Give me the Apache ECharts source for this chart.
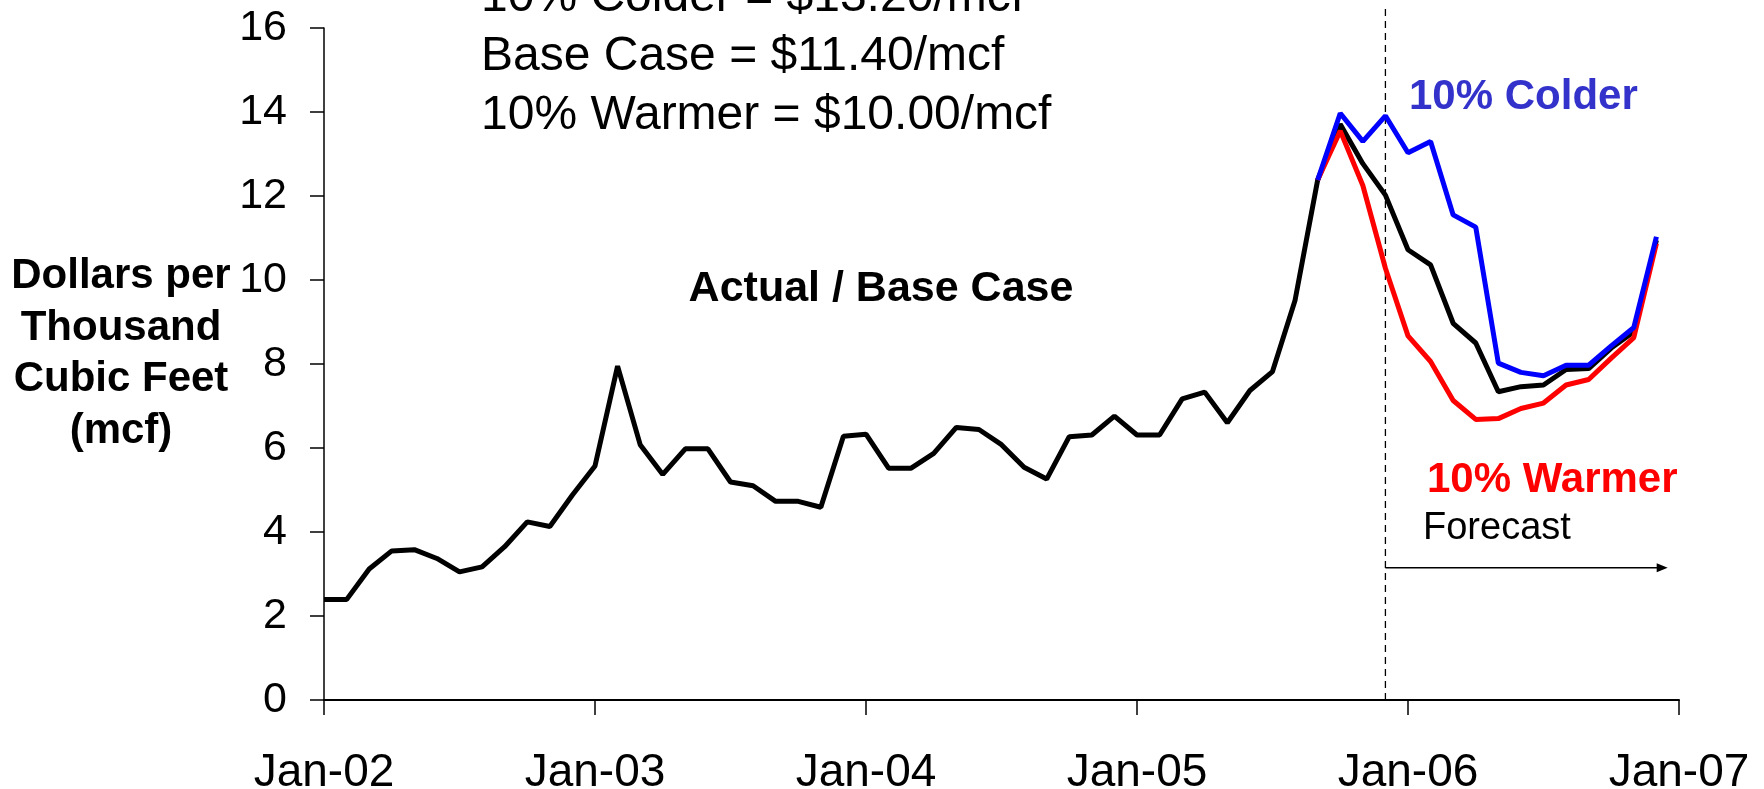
<!DOCTYPE html>
<html><head><meta charset="utf-8">
<script src="https://cdn.jsdelivr.net/npm/echarts@6/dist/echarts.min.js"></script>
<style>html,body{margin:0;padding:0;background:#fff}#c{width:1764px;height:789px}</style>
</head><body><div id="c"></div>
<script>
// Tick labels of the month axis (one per January)
const yearLabels = ['Jan-02', 'Jan-03', 'Jan-04', 'Jan-05', 'Jan-06', 'Jan-07'];

// Actual / Base Case, monthly Jan-02 .. Dec-06 ($/mcf)
const baseCase = [
  2.39, 2.39, 3.12, 3.55, 3.58, 3.37, 3.05, 3.17, 3.65, 4.24, 4.13, 4.88,
  5.57, 7.95, 6.08, 5.37, 5.98, 5.98, 5.19, 5.10, 4.73, 4.73, 4.59, 6.28,
  6.33, 5.52, 5.52, 5.87, 6.49, 6.44, 6.08, 5.54, 5.26, 6.27, 6.31, 6.76,
  6.31, 6.31, 7.17, 7.33, 6.60, 7.37, 7.82, 9.52, 12.38, 13.71, 12.77, 12.02,
  10.72, 10.36, 8.97, 8.50, 7.34, 7.46, 7.50, 7.87, 7.89, 8.38, 8.77, 10.95
];
// 10% Colder scenario, Sep-05 .. Dec-06
const colder = [12.38, 13.97, 13.30, 13.91, 13.03, 13.30, 11.55, 11.26, 8.02, 7.80, 7.72, 7.97, 7.97, 8.43, 8.87, 11.03];
// 10% Warmer scenario, Sep-05 .. Dec-06
const warmer = [12.38, 13.55, 12.25, 10.28, 8.67, 8.06, 7.13, 6.68, 6.70, 6.94, 7.07, 7.50, 7.63, 8.14, 8.63, 10.87];

const summaryLines = ['10% Colder = $13.20/mcf', 'Base Case = $11.40/mcf', '10% Warmer = $10.00/mcf'];
const yTitleLines = ['Dollars per', 'Thousand', 'Cubic Feet', '(mcf)'];

const forecastMonth = 47;     // Dec-05 (month index from Jan-02)
const arrowEndMonth = 59.5;
const arrowLevel = 3.15;
const dashTop = 16.5;

const FONT = "'Liberation Sans', Arial, sans-serif";
const forecastStart = baseCase.length - colder.length;

const chart = echarts.init(document.getElementById('c'), null, {renderer: 'canvas'});
chart.setOption({
  animation: false,
  backgroundColor: '#fff',
  grid: {left: 324, right: 85, top: 28, bottom: 89, containLabel: false, outerBoundsMode: 'none'},
  xAxis: {
    type: 'value', min: 0, max: 60, interval: 12,
    axisLine: {show: true, onZero: false, lineStyle: {color: '#000', width: 2}},
    axisTick: {show: true, length: 15, lineStyle: {color: '#000', width: 1.5}},
    axisLabel: {color: '#000', fontSize: 46, fontFamily: FONT, margin: 50,
      formatter: v => yearLabels[Math.round(v / 12)]},
    splitLine: {show: false}
  },
  yAxis: {
    type: 'value', min: 0, max: 16, interval: 2,
    axisLine: {show: true, lineStyle: {color: '#000', width: 1.5}},
    axisTick: {show: true, length: 14, lineStyle: {color: '#000', width: 1.5}},
    axisLabel: {color: '#000', fontSize: 43, fontFamily: FONT, margin: 37},
    splitLine: {show: false}
  },
  series: [
    {type: 'line', name: 'Base', z: 2, showSymbol: false, symbol: 'none',
      data: baseCase.map((v, i) => [i, v]),
      lineStyle: {color: '#000', width: 5}},
    {type: 'line', name: 'Warmer', z: 3, showSymbol: false, symbol: 'none',
      data: warmer.map((v, i) => [forecastStart + i, v]),
      lineStyle: {color: '#ff0000', width: 5}},
    {type: 'line', name: 'Colder', z: 4, showSymbol: false, symbol: 'none',
      data: colder.map((v, i) => [forecastStart + i, v]),
      lineStyle: {color: '#0000ff', width: 5}}
  ]
});

const p = (x, y) => chart.convertToPixel({gridIndex: 0}, [x, y]);
const dBot = p(forecastMonth, 0), dTop = p(forecastMonth, dashTop);
const aStart = p(forecastMonth, arrowLevel), aEnd = p(arrowEndMonth, arrowLevel);

chart.setOption({
  graphic: [
    {type: 'line', shape: {x1: dBot[0], y1: dBot[1], x2: dTop[0], y2: dTop[1]},
      style: {stroke: '#000', lineWidth: 1.3, lineDash: [7, 5]}, z: 1},
    {type: 'line', shape: {x1: aStart[0], y1: aStart[1], x2: aEnd[0] - 8, y2: aEnd[1]},
      style: {stroke: '#000', lineWidth: 1.6}},
    {type: 'polygon', shape: {points: [[aEnd[0], aEnd[1]], [aEnd[0] - 11, aEnd[1] - 4.5], [aEnd[0] - 11, aEnd[1] + 4.5]]},
      style: {fill: '#000'}},
    {type: 'text', left: 481, top: 54 - 86, style: {text: summaryLines.join('\n'), fill: '#000',
      font: '48px ' + FONT, lineHeight: 59}},
    {type: 'text', x: 121, y: 354, style: {text: yTitleLines.join('\n'), fill: '#000', align: 'center', verticalAlign: 'middle',
      font: 'bold 42px ' + FONT, lineHeight: 51.5}},
    {type: 'text', x: 881, y: 289.5, style: {text: 'Actual / Base Case', fill: '#000', align: 'center', verticalAlign: 'middle',
      font: 'bold 43px ' + FONT}},
    {type: 'text', x: 1409, y: 97.5, style: {text: '10% Colder', fill: '#3333cc', align: 'left', verticalAlign: 'middle',
      font: 'bold 42px ' + FONT}},
    {type: 'text', x: 1427, y: 480.5, style: {text: '10% Warmer', fill: '#ff0000', align: 'left', verticalAlign: 'middle',
      font: 'bold 42px ' + FONT}},
    {type: 'text', x: 1423, y: 528.5, style: {text: 'Forecast', fill: '#000', align: 'left', verticalAlign: 'middle',
      font: '38px ' + FONT}}
  ]
});
</script></body></html>
